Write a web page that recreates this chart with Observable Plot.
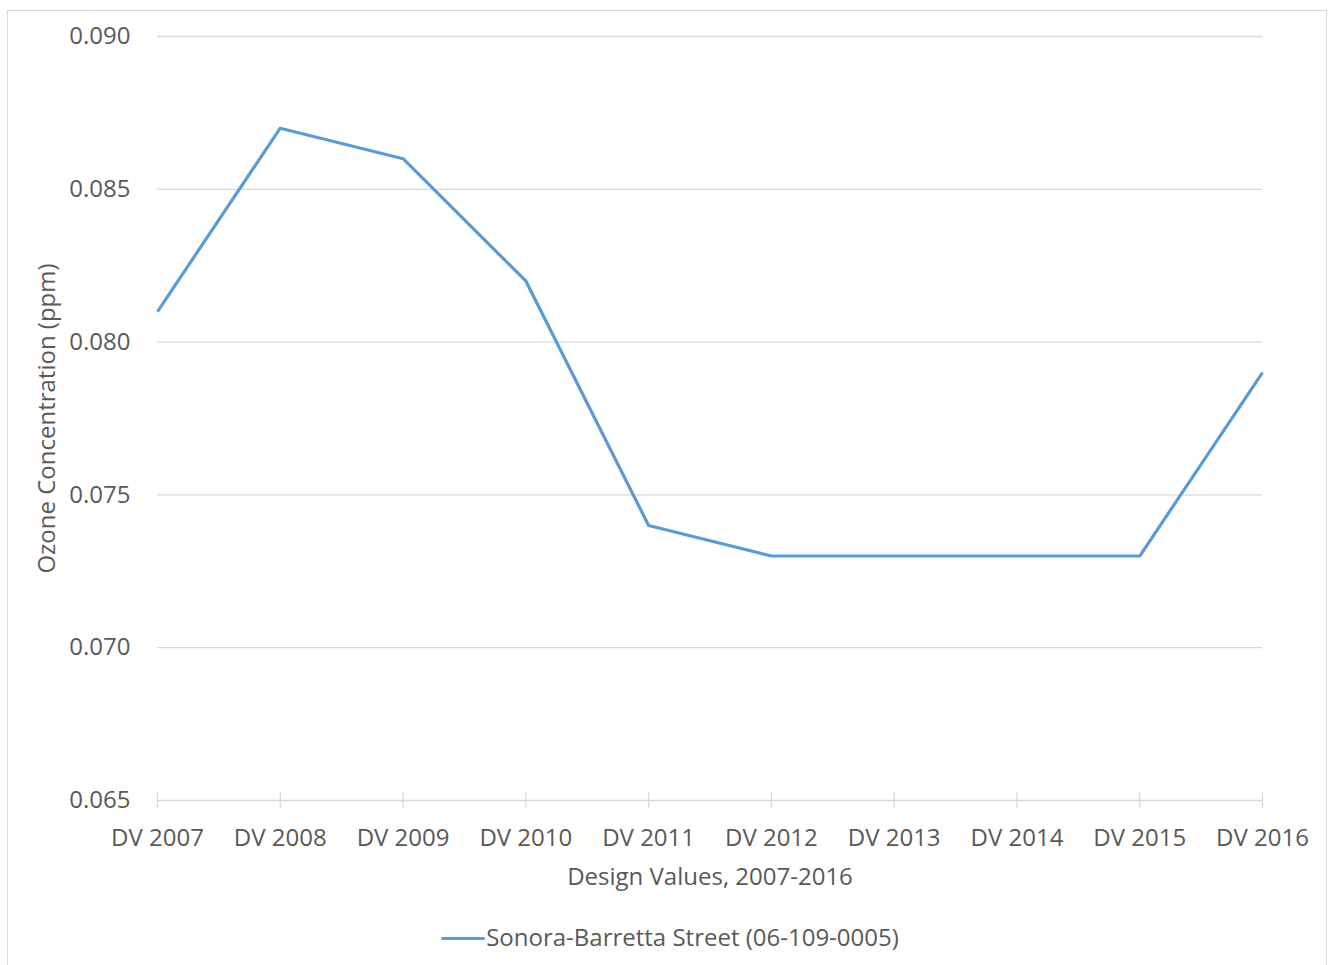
<!DOCTYPE html>
<html>
<head>
<meta charset="utf-8">
<script src="https://cdn.jsdelivr.net/npm/d3@7"></script>
<script src="https://cdn.jsdelivr.net/npm/@observablehq/plot@0.6"></script>
<style>
  html, body { margin: 0; padding: 0; background: #fff; overflow: hidden; }
  #wrap { position: relative; width: 1330px; height: 965px; font-family: "Open Sans", sans-serif; color: #595959; }
  #border { position: absolute; left: 7px; top: 10px; width: 1320px; height: 970px; border: 1px solid #d9d9d9; box-sizing: border-box; }
  #chart { position: absolute; left: 0; top: 0; }
  #legend { position: absolute; left: 0; top: 918px; width: 1340px; text-align: center; font-size: 24px; line-height: 38px; }
  #legend .sw { display: inline-block; width: 44px; height: 3px; background: #5b9bd5; vertical-align: middle; border-radius: 2px; margin-right: 1px; position: relative; top: -1px; }
</style>
</head>
<body>
<div id="wrap">
  <div id="border"></div>
  <div id="chart"></div>
  <div id="legend"><span class="sw"></span>Sonora-Barretta Street (06-109-0005)</div>
</div>
<script>
const categories = ["DV 2007", "DV 2008", "DV 2009", "DV 2010", "DV 2011", "DV 2012", "DV 2013", "DV 2014", "DV 2015", "DV 2016"];
const sonoraValues = [0.081, 0.087, 0.086, 0.082, 0.074, 0.073, 0.073, 0.073, 0.073, 0.079];
const yTicks = [0.065, 0.070, 0.075, 0.080, 0.085, 0.090];
const seriesName = "Sonora-Barretta Street (06-109-0005)";
const xTitle = "Design Values, 2007-2016";
const yTitle = "Ozone Concentration (ppm)";

const data = categories.map((c, i) => ({cat: c, value: sonoraValues[i]}));
const textColor = "#595959";
const gridColor = "#d9d9d9";

const plot = Plot.plot({
  width: 1330,
  height: 900,
  marginLeft: 157,
  marginRight: 68,
  marginTop: 36,
  marginBottom: 100,
  style: {fontFamily: "Open Sans, sans-serif", fontSize: "24px", color: textColor, background: "transparent"},
  x: {type: "point", domain: categories, padding: 0, round: false},
  y: {domain: [0.065, 0.090]},
  marks: [
    Plot.ruleY(yTicks.slice(1), {stroke: gridColor, strokeWidth: 1.3}),
    Plot.ruleY([0.065], {stroke: gridColor, strokeWidth: 1.3}),
    Plot.ruleX(categories, {x: d => d, y1: 0.065, y2: 0.065, insetTop: -8, insetBottom: -8, stroke: gridColor, strokeWidth: 1.3}),
    Plot.axisY({ticks: yTicks, tickFormat: d3.format(".3f"), tickSize: 0, tickPadding: 27, label: null, fill: textColor, fontSize: 24}),
    Plot.axisX({tickSize: 0, tickPadding: 28, label: null, fill: textColor, fontSize: 24}),
    Plot.line(data, {x: "cat", y: "value", stroke: "#5b9bd5", strokeWidth: 3.2, strokeLinejoin: "round", strokeLinecap: "butt"}),
    Plot.text([xTitle], {frameAnchor: "bottom", dy: 84, fill: textColor, fontSize: 24}),
    Plot.text([yTitle], {frameAnchor: "left", textAnchor: "middle", dx: -110, rotate: -90, fill: textColor, fontSize: 24})
  ]
});
document.getElementById("chart").appendChild(plot);
</script>
</body>
</html>
